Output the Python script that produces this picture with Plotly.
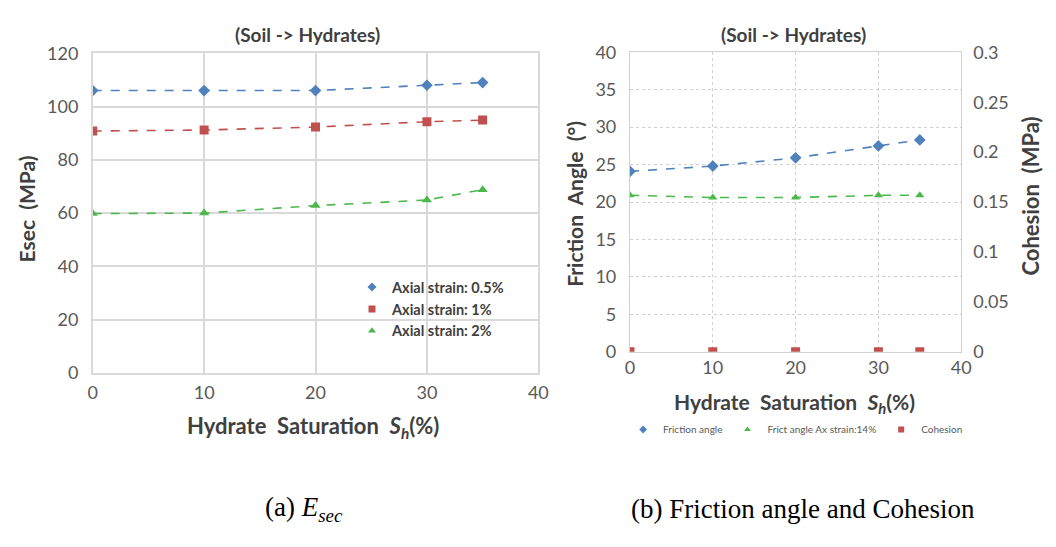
import plotly.graph_objects as go

W, H = 1056, 547

# ---------------- data ----------------
sh = [0, 10, 20, 30, 35]
esec_05 = [106.0, 106.0, 106.0, 108.0, 109.0]
esec_1 = [90.8, 91.2, 92.3, 94.3, 94.9]
esec_2 = [59.8, 60.0, 62.8, 64.9, 68.8]

friction = [24.1, 24.8, 25.9, 27.5, 28.3]
friction_14 = [20.9, 20.6, 20.6, 20.9, 20.9]
cohesion = [0.0, 0.0, 0.0, 0.0, 0.0]

left_names = ["Axial strain: 0.5%", "Axial strain: 1%", "Axial strain: 2%"]
right_names = ["Friction angle", "Frict angle Ax strain:14%", "Cohesion"]

x_ticks = [0, 10, 20, 30, 40]
left_y_ticks = [0, 20, 40, 60, 80, 100, 120]
right_y_ticks = [0, 5, 10, 15, 20, 25, 30, 35, 40]
coh_ticks = [0, 0.05, 0.1, 0.15, 0.2, 0.25, 0.3]
coh_labels = ["0", "0.05", "0.1", "0.15", "0.2", "0.25", "0.3"]

BLUE = "#4F81BD"
RED = "#C0504D"
GREEN = "#4CB84C"
TXT = "#404040"
FONT = "Lato"


def px(x):
    return x / W


def py(y):
    return 1 - y / H


fig = go.Figure()

# ---------------- left chart ----------------
series_left = [
    (esec_05, BLUE, "diamond", 9),
    (esec_1, RED, "square", 9),
    (esec_2, GREEN, "triangle-up", 9),
]
for (vals, col, sym, ms), name in zip(series_left, left_names):
    fig.add_trace(go.Scatter(
        x=sh, y=vals, mode="lines+markers", xaxis="x", yaxis="y",
        line=dict(color=col, width=1.6, dash="dash"),
        marker=dict(color=col, symbol=sym, size=ms),
        showlegend=False, name=name))
    fig.add_trace(go.Scatter(
        x=[None], y=[None], mode="markers", xaxis="x", yaxis="y",
        marker=dict(color=col, symbol=sym, size=7),
        name=name, legend="legend", showlegend=True))

# ---------------- right chart ----------------
fig.add_trace(go.Scatter(
    x=sh, y=friction, mode="lines+markers", xaxis="x2", yaxis="y2",
    line=dict(color=BLUE, width=1.6, dash="dash"),
    marker=dict(color=BLUE, symbol="diamond", size=9),
    showlegend=False, name=right_names[0]))
fig.add_trace(go.Scatter(
    x=sh, y=friction_14, mode="lines+markers", xaxis="x2", yaxis="y2",
    line=dict(color=GREEN, width=1.6, dash="dash"),
    marker=dict(color=GREEN, symbol="triangle-up", size=8),
    showlegend=False, name=right_names[1]))
fig.add_trace(go.Scatter(
    x=sh, y=cohesion, mode="markers", xaxis="x2", yaxis="y3",
    marker=dict(color=RED, symbol="square", size=9),
    showlegend=False, name=right_names[2]))
for col, sym, name in [(BLUE, "diamond", right_names[0]),
                       (GREEN, "triangle-up", right_names[1]),
                       (RED, "square", right_names[2])]:
    fig.add_trace(go.Scatter(
        x=[None], y=[None], mode="markers", xaxis="x2", yaxis="y2",
        marker=dict(color=col, symbol=sym, size=6),
        name=name, legend="legend2", showlegend=True))

tickfont = dict(family=FONT, size=18, color="#595959")

L_x0, L_x1, L_y0, L_y1 = 89, 541, 43, 376
R_x0, R_x1, R_y0, R_y1 = 634, 970, 42, 354

fig.update_layout(
    width=W, height=H,
    margin=dict(l=0, r=0, t=0, b=0),
    paper_bgcolor="white", plot_bgcolor="white",
    font=dict(family=FONT, color=TXT),
    xaxis=dict(domain=[px(L_x0), px(L_x1)], range=[0, 40], tickvals=x_ticks,
               showgrid=True, gridcolor="#d9d9d9", gridwidth=1.5,
               showline=True, linecolor="#d9d9d9", linewidth=1.5, mirror=True,
               zeroline=False, ticks="", tickfont=tickfont, anchor="y",
               ticklabelstandoff=3),
    yaxis=dict(domain=[py(L_y1), py(L_y0)], range=[0, 120], tickvals=left_y_ticks,
               showgrid=True, gridcolor="#d9d9d9", gridwidth=1.5,
               showline=True, linecolor="#d9d9d9", linewidth=1.5, mirror=True,
               zeroline=False, ticks="", tickfont=tickfont, anchor="x",
               ticklabelstandoff=9),
    xaxis2=dict(domain=[px(R_x0), px(R_x1)], range=[0, 40], tickvals=x_ticks,
                showgrid=True, gridcolor="#d0d0d0", griddash="dot", gridwidth=1,
                showline=True, linecolor="#d0d0d0", linewidth=1.2, mirror=True,
                zeroline=False, ticks="", tickfont=tickfont, anchor="y2",
                ticklabelstandoff=0),
    yaxis2=dict(domain=[py(R_y1), py(R_y0)], range=[0, 40], tickvals=right_y_ticks,
                showgrid=True, gridcolor="#d0d0d0", griddash="dot", gridwidth=1,
                showline=True, linecolor="#d0d0d0", linewidth=1.2, mirror=True,
                zeroline=False, ticks="", tickfont=tickfont, anchor="x2",
                ticklabelstandoff=9),
    yaxis3=dict(range=[0, 0.3], tickvals=coh_ticks, ticktext=coh_labels,
                overlaying="y2", side="right", anchor="x2", showgrid=False,
                zeroline=False, ticks="", tickfont=tickfont, ticklabelstandoff=11),
    legend=dict(x=px(352), y=py(270), xanchor="left", yanchor="top",
                font=dict(family=FONT, size=14.5, color=TXT, weight="bold"),
                bgcolor="rgba(0,0,0,0)", itemwidth=30, tracegroupgap=2,
                itemclick=False),
    legend2=dict(x=px(802), y=py(435), xanchor="center", yanchor="middle",
                 orientation="h",
                 font=dict(family=FONT, size=10, color="#595959"),
                 bgcolor="rgba(0,0,0,0)", itemwidth=30),
)

ann = []
# titles
ann.append(dict(x=px(307), y=py(23), text="<b>(Soil -> Hydrates)</b>",
                font=dict(family=FONT, size=19, color=TXT)))
ann.append(dict(x=px(800), y=py(23), text="<b>(Soil -> Hydrates)</b>",
                font=dict(family=FONT, size=19, color=TXT)))
# axis titles left
ann.append(dict(x=px(22), y=py(205), text="<b>Esec  (MPa)</b>", textangle=-90,
                font=dict(family=FONT, size=21, color=TXT)))
ann.append(dict(x=px(312), y=py(432),
                text="<b>Hydrate  Saturation  <i>S<sub>h</sub></i>(%)</b>",
                font=dict(family=FONT, size=22, color=TXT)))
# axis titles right
ann.append(dict(x=px(578), y=py(200), text="<b>Friction  Angle  (°)</b>", textangle=-90,
                font=dict(family=FONT, size=21, color=TXT)))
ann.append(dict(x=px(1040), y=py(192), text="<b>Cohesion  (MPa)</b>", textangle=-90,
                font=dict(family=FONT, size=22, color=TXT)))
ann.append(dict(x=px(801), y=py(407),
                text="<b>Hydrate  Saturation  <i>S<sub>h</sub></i>(%)</b>",
                font=dict(family=FONT, size=21, color=TXT)))
# captions
ann.append(dict(x=px(303), y=py(518), text="(a) <i>E<sub>sec</sub></i>",
                font=dict(family="Liberation Serif", size=27, color="black")))
ann.append(dict(x=px(810), y=py(518), text="(b) Friction angle and Cohesion",
                font=dict(family="Liberation Serif", size=27, color="black")))

for a in ann:
    a.update(xref="paper", yref="paper", showarrow=False,
             xanchor="center", yanchor="middle")
fig.update_layout(annotations=ann)

fig.write_html("out.html")
